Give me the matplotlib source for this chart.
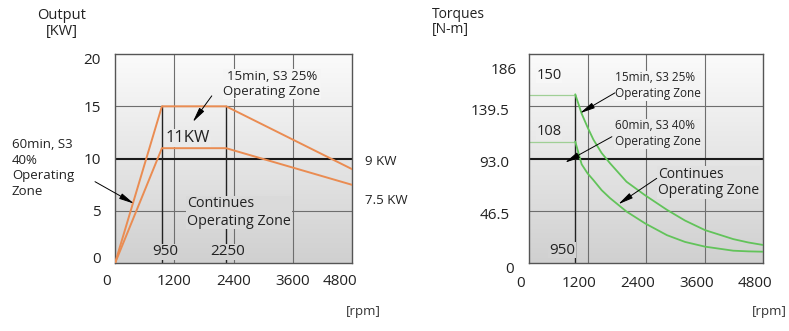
import matplotlib
matplotlib.use("Agg")
import matplotlib.pyplot as plt
import numpy as np
from matplotlib.colors import LinearSegmentedColormap, to_rgb
from matplotlib.transforms import ScaledTranslation

plt.rcParams['font.family'] = ['Open Sans', 'DejaVu Sans']

# ---- Output characteristic [rpm] -> [kW] ----
rpm_s3_25 = [0, 950, 2250, 4800]
kw_s3_25 = [0, 15, 15, 9]
rpm_s3_40 = [0, 950, 2250, 4800]
kw_s3_40 = [0, 11, 11, 7.5]
kw_ticks = [0, 5, 10, 15, 20]
kw_tick_labels = ['0', '5', '10', '15', '20']

# ---- Torque characteristic [rpm] -> [N-m] ----
rpm_tq = [950, 1080, 1200, 1320, 1490, 1660, 2000, 2380, 2830, 3200, 3610, 4190, 4500, 4800]
tq_s3_25 = [150, 133, 121, 110, 98, 89, 72.5, 60.5, 47.5, 38, 29.5, 21.5, 18.5, 16.3]
tq_s3_40 = [108, 88, 80, 74, 65, 58, 46, 35.5, 25, 19, 14.8, 11.2, 10.6, 10.3]
tq_ticks = [0, 46.5, 93.0, 139.5, 186]
tq_tick_labels = ['0', '46.5', '93.0', '139.5', '186']

rpm_ticks = [0, 1200, 2400, 3600, 4800]
rpm_tick_labels = ['0', '1200', '2400', '3600', '4800']

ORANGE = '#ea8c52'
GREEN = '#62c35a'
GRID = '#6e6e6e'
TOP_SHADE = '#fbfbfb'
BOTTOM_SHADE = '#d0d0d0'

W, H = 789, 331
fig = plt.figure(figsize=(W / 100, H / 100), dpi=100)
fig.patch.set_facecolor('white')

cmap = LinearSegmentedColormap.from_list('panel', [BOTTOM_SHADE, TOP_SHADE])


def shade(frac):
    b = np.array(to_rgb(BOTTOM_SHADE))
    t = np.array(to_rgb(TOP_SHADE))
    return tuple(b + (t - b) * frac)


def px_offset(dx, dy):
    return ScaledTranslation(dx / 100, -dy / 100, fig.dpi_scale_trans)


def setup_panel(ax, ymax, ygrid, ymain, yticks, ylabels):
    grad = np.linspace(0, 1, 256).reshape(-1, 1)
    ax.imshow(grad, cmap=cmap, origin='lower', aspect='auto',
              extent=[0, 4800, 0, ymax], zorder=0, interpolation='bilinear')
    ax.set_xlim(0, 4800)
    ax.set_ylim(0, ymax)
    for x in [1200, 2400, 3600]:
        ax.axvline(x, color=GRID, lw=0.8, zorder=1)
    for y in ygrid:
        ax.axhline(y, color=GRID, lw=0.8, zorder=1)
    ax.axhline(ymain, color='#1a1a1a', lw=1.5, zorder=1)
    ax.set_xticks(rpm_ticks, rpm_tick_labels)
    ax.set_yticks(yticks, ylabels)
    ax.tick_params(length=0, labelsize=11, colors='#222222')
    for s in ax.spines.values():
        s.set_color('#555555')
        s.set_linewidth(1.0)


def label(ax, x, y, s, ymax, size=9.5, **kw):
    frac = y / ymax
    ax.text(x, y, s, fontsize=size, color='#222222', zorder=5,
            bbox=dict(boxstyle='square,pad=0.05', fc=shade(frac), ec='none'),
            **kw)


def arrow(ax, start, tip):
    ax.annotate('', xy=tip, xytext=start, annotation_clip=False, zorder=6,
                arrowprops=dict(arrowstyle='-|>,head_length=0.9,head_width=0.18',
                                color='black', lw=0.7, shrinkA=0, shrinkB=0))


# ================= Output panel =================
ax1 = fig.add_axes([115 / W, 1 - 263.3 / H, 237 / W, 209.3 / H])
setup_panel(ax1, 20, [5, 15], 10, kw_ticks, kw_tick_labels)
ax1.tick_params(axis='y', pad=10)
ax1.tick_params(axis='x', pad=8)
xl = ax1.get_xticklabels()
xl[0].set_transform(xl[0].get_transform() + px_offset(-8, 0))
xl[-1].set_transform(xl[-1].get_transform() + px_offset(-12, 0))
yl = ax1.get_yticklabels()
yl[0].set_transform(yl[0].get_transform() + px_offset(0, -6))
yl[-1].set_transform(yl[-1].get_transform() + px_offset(0, 5))

ax1.plot([950, 950], [0, 15], color='#222222', lw=1.0, zorder=2)
ax1.plot([2250, 2250], [0, 15], color='#222222', lw=1.0, zorder=2)
ax1.plot(rpm_s3_25, kw_s3_25, color=ORANGE, lw=1.4, zorder=3)
ax1.plot(rpm_s3_40, kw_s3_40, color=ORANGE, lw=1.4, zorder=3)

label(ax1, 3180, 17.15, '15min, S3 25%\nOperating Zone', 20, size=9.5,
      ha='center', va='center', multialignment='center', linespacing=1.25)
arrow(ax1, (1960, 16.0), (1575, 13.5))
label(ax1, 1470, 12.0, '11KW', 20, size=12, ha='center', va='center')
label(ax1, 1460, 4.85, 'Continues\nOperating Zone', 20, size=10.3,
      ha='left', va='center', linespacing=1.2)
label(ax1, 1020, 1.1, '950', 20, size=11, ha='center', va='center')
label(ax1, 2290, 1.1, '2250', 20, size=11, ha='center', va='center')
arrow(ax1, (-405, 7.8), (385, 5.7))

fig.text(12 / W, 1 - 168 / H, '60min, S3\n40%\nOperating\nZone', fontsize=9.5,
         color='#222222', ha='left', va='center', linespacing=1.25)
fig.text(365 / W, 1 - 162 / H, '9 KW', fontsize=9.5, color='#222222',
         ha='left', va='center')
fig.text(365 / W, 1 - 200 / H, '7.5 KW', fontsize=9.5, color='#222222',
         ha='left', va='center')
fig.text(363 / W, 1 - 312 / H, '[rpm]', fontsize=9.5, color='#333333',
         ha='center', va='center')
fig.text(62 / W, 1 - 23.5 / H, 'Output\n[KW]', fontsize=10.5, color='#222222',
         ha='center', va='center', linespacing=1.05)

# ================= Torque panel =================
ax2 = fig.add_axes([529 / W, 1 - 263.3 / H, 234 / W, 209.3 / H])
setup_panel(ax2, 186, [46.5, 139.5], 93.0, tq_ticks, tq_tick_labels)
ax2.tick_params(axis='y', pad=14)
ax2.tick_params(axis='x', pad=9)
for t in ax2.get_xticklabels():
    t.set_transform(t.get_transform() + px_offset(-8, 0))
yl2 = ax2.get_yticklabels()
for t in yl2:
    t.set_transform(t.get_transform() + px_offset(0, 3))
yl2[0].set_transform(yl2[0].get_transform() + px_offset(4, 1))
yl2[-1].set_transform(yl2[-1].get_transform() + px_offset(7, 11))

ax2.plot([950, 950], [0, 150], color='#222222', lw=1.0, zorder=2)
ax2.plot([0, 950], [150, 150], color='#9fcf95', lw=0.9, zorder=2)
ax2.plot([0, 950], [108, 108], color='#9fcf95', lw=0.9, zorder=2)
ax2.plot(rpm_tq, tq_s3_25, color=GREEN, lw=1.3, zorder=3)
ax2.plot(rpm_tq, tq_s3_40, color=GREEN, lw=1.3, zorder=3)

label(ax2, 410, 167.3, '150', 186, size=10.5, ha='center', va='center')
label(ax2, 410, 117.0, '108', 186, size=10.5, ha='center', va='center')
label(ax2, 680, 11.8, '950', 186, size=11, ha='center', va='center')
label(ax2, 1764, 157.7, '15min, S3 25%\nOperating Zone', 186, size=8.5,
      ha='left', va='center', linespacing=1.3)
arrow(ax2, (1764, 151.5), (1046, 133.4))
label(ax2, 1764, 115.1, '60min, S3 40%\nOperating Zone', 186, size=8.5,
      ha='left', va='center', linespacing=1.3)
arrow(ax2, (1700, 112.5), (738, 89.5))
label(ax2, 2646, 71.8, 'Continues\nOperating Zone', 186, size=10,
      ha='left', va='center', linespacing=1.15)
arrow(ax2, (2620, 75.5), (1832, 52.5))

fig.text(432 / W, 1 - 21.5 / H, 'Torques\n[N-m]', fontsize=10, color='#222222',
         ha='left', va='center', linespacing=1.0)
fig.text(787 / W, 1 - 312 / H, '[rpm]', fontsize=9.5, color='#333333',
         ha='right', va='center')

fig.savefig('out.png', dpi=100)
